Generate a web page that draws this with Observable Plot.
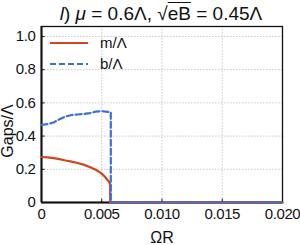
<!DOCTYPE html>
<html><head><meta charset="utf-8">
<script src="https://cdn.jsdelivr.net/npm/d3@7"></script>
<script src="https://cdn.jsdelivr.net/npm/@observablehq/plot@0.6"></script>
<style>
body{margin:0;background:#fff;font-family:"Liberation Sans",Arial,sans-serif;}
#wrap{position:relative;width:300px;height:245px;overflow:hidden;}
#title{height:24px;line-height:28px;font-size:19px;color:#111;text-align:center;padding-left:22px;white-space:nowrap;overflow:visible;}
.leg{position:absolute;font-size:15px;color:#111;}
.lab{position:absolute;font-size:16px;color:#111;white-space:nowrap;}
</style></head>
<body><div id="wrap">
<div id="title"><i>l</i>) <i>μ</i> = 0.6Λ, &#8730;<span style="text-decoration:overline">eB</span> = 0.45Λ</div>
<div id="chart"></div>
</div>
<script>
const mX = [0, 0.0005, 0.001, 0.0015, 0.002, 0.0025, 0.003, 0.0035, 0.004, 0.0045, 0.005, 0.0053, 0.0056, 0.0057, 0.0057, 0.020];
const mY = [0.274, 0.272, 0.267, 0.261, 0.253, 0.246, 0.238, 0.228, 0.214, 0.197, 0.174, 0.152, 0.124, 0.108, 0, 0];
const bX = [0, 0.0005, 0.001, 0.0015, 0.002, 0.0025, 0.003, 0.0035, 0.004, 0.0045, 0.005, 0.0055, 0.00575, 0.00575, 0.020];
const bY = [0.468, 0.472, 0.482, 0.502, 0.518, 0.527, 0.530, 0.533, 0.538, 0.547, 0.550, 0.546, 0.543, 0, 0];
const xTicks = [0, 0.005, 0.010, 0.015, 0.020];
const yTicks = [0, 0.2, 0.4, 0.6, 0.8, 1.0];
const seriesNames = ["m/Λ", "b/Λ"];
const colors = ["#d4441c", "#3a6fd8"];
const xLabel = "ΩR";
const yLabel = "Gaps/Λ";

const mData = mX.map((x, i) => ({x, y: mY[i]}));
const bData = bX.map((x, i) => ({x, y: bY[i]}));

const chart = Plot.plot({
  width: 300, height: 221,
  marginLeft: 41, marginRight: 18, marginTop: 2, marginBottom: 43,
  style: {fontFamily: '"Liberation Sans", Arial, sans-serif', fontSize: "15px", color: "#111", background: "#fff", letterSpacing: "-0.4px"},
  x: {domain: [0, 0.02]},
  y: {domain: [0, 1.06]},
  marks: [
    Plot.gridX(xTicks.slice(1, -1), {stroke: "#bbb", strokeOpacity: 1, strokeDasharray: "1.5,1.5", strokeWidth: 0.8}),
    Plot.gridY(yTicks.slice(1), {stroke: "#bbb", strokeOpacity: 1, strokeDasharray: "1.5,1.5", strokeWidth: 0.8}),
    Plot.axisX(xTicks, {tickSize: 0, tickPadding: 6, fontSize: 15, tickFormat: d => d === 0 ? "0" : d.toFixed(3), label: null}),
    Plot.axisY(yTicks, {tickSize: 0, tickPadding: 6, fontSize: 15, tickFormat: d => d === 0 ? "0" : d.toFixed(1), label: null}),
    Plot.ruleX(xTicks, {x: d => d, y1: 0, y2: 0.02, stroke: "#111", strokeWidth: 1}),
    Plot.ruleY(yTicks, {y: d => d, x1: 0, x2: 0.0003, stroke: "#111", strokeWidth: 1}),
    Plot.frame({stroke: "#111", strokeWidth: 1.3}),
    Plot.ruleX([0], {stroke: "#111", strokeWidth: 2}),
    Plot.ruleY([0], {stroke: "#111", strokeWidth: 2}),
    Plot.line(mData, {x: "x", y: "y", stroke: colors[0], strokeWidth: 2.2}),
    Plot.line(bData, {x: "x", y: "y", stroke: colors[1], strokeWidth: 2.2, strokeDasharray: "6,3"})
  ]
});
document.getElementById("chart").appendChild(chart);

const wrap = document.getElementById("wrap");
// axis labels
const xl = document.createElement("div");
xl.className = "lab"; xl.textContent = xLabel;
xl.style.left = "162px"; xl.style.top = "229px"; xl.style.transform = "translateX(-50%)";
wrap.appendChild(xl);
const yl = document.createElement("div");
yl.className = "lab"; yl.textContent = yLabel;
yl.style.left = "8px"; yl.style.top = "131px";
yl.style.transform = "translate(-50%,-50%) rotate(-90deg)";
yl.style.lineHeight = "16px";
wrap.appendChild(yl);

// legend overlay
seriesNames.forEach((name, i) => {
  const top = 43 + i * 21;
  const s = document.createElementNS("http://www.w3.org/2000/svg", "svg");
  s.setAttribute("width", 40); s.setAttribute("height", 6);
  s.style.position = "absolute"; s.style.left = "50px"; s.style.top = (top - 3) + "px";
  const l = document.createElementNS("http://www.w3.org/2000/svg", "line");
  l.setAttribute("x1", 0); l.setAttribute("x2", 38); l.setAttribute("y1", 3); l.setAttribute("y2", 3);
  l.setAttribute("stroke", colors[i]); l.setAttribute("stroke-width", 2.2);
  if (i === 1) l.setAttribute("stroke-dasharray", "6,3");
  s.appendChild(l); wrap.appendChild(s);
  const t = document.createElement("div");
  t.className = "leg"; t.textContent = name;
  t.style.left = "100px"; t.style.top = (top - 9) + "px";
  wrap.appendChild(t);
});
</script>
</body></html>
